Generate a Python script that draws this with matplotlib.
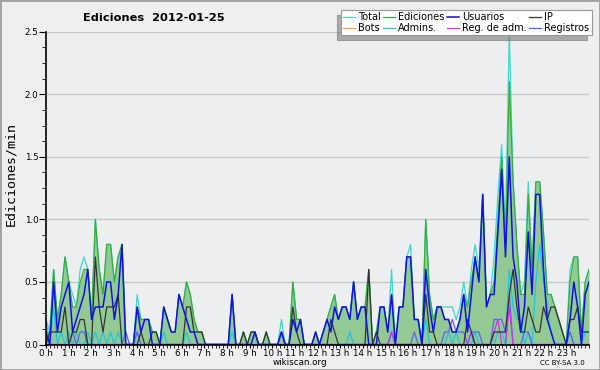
import numpy as np
import matplotlib
matplotlib.use('Agg')
import matplotlib.pyplot as plt
from matplotlib.patches import Rectangle
from matplotlib.ticker import MultipleLocator

# edits per minute, one value per 10 minutes (144 bins)
total = [0.2, 0.1, 0.6, 0.2, 0.4, 0.7,  0.5, 0.4, 0.3, 0.6, 0.7, 0.6,
         0.2, 1.0, 0.6, 0.4, 0.8, 0.8,  0.5, 0.7, 0.8, 0.1, 0.0, 0.0,
         0.4, 0.2, 0.2, 0.2, 0.1, 0.1,  0.0, 0.3, 0.2, 0.1, 0.1, 0.4,
         0.3, 0.5, 0.4, 0.2, 0.1, 0.1,  0.0, 0.0, 0.0, 0.0, 0.0, 0.0,
         0.0, 0.4, 0.0, 0.0, 0.1, 0.0,  0.1, 0.1, 0.0, 0.0, 0.1, 0.0,
         0.0, 0.0, 0.2, 0.0, 0.0, 0.5,  0.2, 0.2, 0.0, 0.0, 0.0, 0.1,
         0.0, 0.1, 0.2, 0.3, 0.4, 0.2,  0.3, 0.3, 0.2, 0.5, 0.2, 0.3,
         0.3, 0.6, 0.0, 0.1, 0.3, 0.3,  0.1, 0.6, 0.0, 0.3, 0.3, 0.7,
         0.8, 0.2, 0.2, 0.0, 1.0, 0.4,  0.2, 0.3, 0.3, 0.3, 0.3, 0.3,
         0.2, 0.3, 0.5, 0.3, 0.6, 0.8,  0.6, 1.2, 0.3, 0.4, 0.7, 1.2,
         1.6, 0.9, 2.5, 1.3, 0.8, 0.4,  0.5, 1.3, 0.6, 1.3, 1.3, 0.9,
         0.4, 0.4, 0.3, 0.2, 0.1, 0.0,  0.6, 0.7, 0.7, 0.1, 0.5, 0.6]

ediciones = [0.1, 0.1, 0.6, 0.2, 0.4, 0.7,  0.5, 0.3, 0.3, 0.5, 0.6, 0.6,
             0.2, 1.0, 0.6, 0.4, 0.8, 0.8,  0.5, 0.7, 0.8, 0.0, 0.0, 0.0,
             0.3, 0.2, 0.2, 0.2, 0.1, 0.1,  0.0, 0.3, 0.2, 0.1, 0.1, 0.4,
             0.3, 0.5, 0.4, 0.2, 0.1, 0.1,  0.0, 0.0, 0.0, 0.0, 0.0, 0.0,
             0.0, 0.4, 0.0, 0.0, 0.1, 0.0,  0.1, 0.1, 0.0, 0.0, 0.1, 0.0,
             0.0, 0.0, 0.1, 0.0, 0.0, 0.5,  0.2, 0.2, 0.0, 0.0, 0.0, 0.1,
             0.0, 0.1, 0.2, 0.3, 0.4, 0.2,  0.3, 0.3, 0.2, 0.5, 0.2, 0.3,
             0.3, 0.6, 0.0, 0.1, 0.3, 0.3,  0.1, 0.4, 0.0, 0.3, 0.3, 0.7,
             0.7, 0.2, 0.2, 0.0, 1.0, 0.4,  0.2, 0.3, 0.3, 0.2, 0.2, 0.1,
             0.1, 0.2, 0.4, 0.3, 0.5, 0.7,  0.5, 1.2, 0.3, 0.4, 0.5, 1.0,
             1.5, 0.8, 2.1, 1.3, 0.8, 0.4,  0.4, 1.2, 0.6, 1.3, 1.3, 0.9,
             0.4, 0.4, 0.3, 0.2, 0.1, 0.0,  0.5, 0.7, 0.7, 0.1, 0.5, 0.6]

usuarios = [0.1, 0.0, 0.5, 0.1, 0.3, 0.4,  0.5, 0.1, 0.2, 0.3, 0.4, 0.6,
            0.2, 0.3, 0.3, 0.3, 0.5, 0.5,  0.2, 0.4, 0.8, 0.0, 0.0, 0.0,
            0.3, 0.1, 0.2, 0.2, 0.0, 0.0,  0.0, 0.3, 0.2, 0.1, 0.1, 0.4,
            0.3, 0.2, 0.1, 0.1, 0.0, 0.0,  0.0, 0.0, 0.0, 0.0, 0.0, 0.0,
            0.0, 0.4, 0.0, 0.0, 0.0, 0.0,  0.0, 0.1, 0.0, 0.0, 0.0, 0.0,
            0.0, 0.0, 0.1, 0.0, 0.0, 0.2,  0.1, 0.2, 0.0, 0.0, 0.0, 0.1,
            0.0, 0.1, 0.2, 0.1, 0.3, 0.2,  0.3, 0.3, 0.2, 0.5, 0.2, 0.3,
            0.3, 0.0, 0.0, 0.0, 0.3, 0.3,  0.1, 0.4, 0.0, 0.3, 0.3, 0.7,
            0.7, 0.2, 0.2, 0.0, 0.6, 0.3,  0.1, 0.3, 0.3, 0.2, 0.2, 0.1,
            0.1, 0.2, 0.4, 0.1, 0.4, 0.7,  0.5, 1.2, 0.3, 0.4, 0.4, 0.9,
            1.4, 0.7, 1.5, 0.7, 0.5, 0.1,  0.3, 0.9, 0.4, 1.2, 1.2, 0.6,
            0.2, 0.1, 0.0, 0.0, 0.0, 0.0,  0.2, 0.5, 0.3, 0.0, 0.4, 0.5]

ip = [0.0, 0.1, 0.1, 0.1, 0.1, 0.3,  0.0, 0.1, 0.1, 0.2, 0.2, 0.0,
      0.0, 0.7, 0.3, 0.1, 0.3, 0.3,  0.3, 0.4, 0.0, 0.0, 0.0, 0.0,
      0.0, 0.1, 0.0, 0.0, 0.1, 0.1,  0.0, 0.0, 0.0, 0.0, 0.0, 0.0,
      0.0, 0.3, 0.3, 0.1, 0.1, 0.1,  0.0, 0.0, 0.0, 0.0, 0.0, 0.0,
      0.0, 0.0, 0.0, 0.0, 0.1, 0.0,  0.1, 0.1, 0.0, 0.0, 0.1, 0.0,
      0.0, 0.0, 0.0, 0.0, 0.0, 0.3,  0.1, 0.0, 0.0, 0.0, 0.0, 0.0,
      0.0, 0.0, 0.0, 0.2, 0.1, 0.0,  0.0, 0.0, 0.0, 0.0, 0.0, 0.0,
      0.0, 0.6, 0.0, 0.1, 0.0, 0.0,  0.0, 0.0, 0.0, 0.0, 0.0, 0.0,
      0.0, 0.0, 0.0, 0.0, 0.4, 0.1,  0.1, 0.0, 0.0, 0.0, 0.0, 0.0,
      0.0, 0.0, 0.0, 0.2, 0.1, 0.0,  0.0, 0.0, 0.0, 0.0, 0.1, 0.1,
      0.1, 0.1, 0.4, 0.6, 0.3, 0.1,  0.1, 0.3, 0.2, 0.1, 0.1, 0.3,
      0.2, 0.3, 0.3, 0.2, 0.1, 0.0,  0.2, 0.2, 0.3, 0.1, 0.1, 0.1]

admins = [0.2, 0.0, 0.3, 0.0, 0.1, 0.0,  0.1, 0.0, 0.1, 0.0, 0.0, 0.1,
          0.0, 0.1, 0.0, 0.1, 0.0, 0.1,  0.0, 0.1, 0.0, 0.0, 0.0, 0.0,
          0.1, 0.0, 0.0, 0.0, 0.0, 0.0,  0.0, 0.1, 0.0, 0.0, 0.0, 0.0,
          0.0, 0.1, 0.0, 0.0, 0.0, 0.0,  0.0, 0.0, 0.0, 0.0, 0.0, 0.0,
          0.0, 0.1, 0.0, 0.0, 0.0, 0.0,  0.0, 0.0, 0.0, 0.0, 0.0, 0.0,
          0.0, 0.0, 0.1, 0.0, 0.0, 0.0,  0.0, 0.0, 0.0, 0.0, 0.0, 0.0,
          0.0, 0.0, 0.0, 0.0, 0.0, 0.0,  0.0, 0.0, 0.1, 0.0, 0.0, 0.0,
          0.0, 0.0, 0.0, 0.0, 0.0, 0.0,  0.0, 0.1, 0.0, 0.0, 0.0, 0.0,
          0.0, 0.0, 0.0, 0.0, 0.2, 0.0,  0.0, 0.0, 0.0, 0.0, 0.1, 0.0,
          0.1, 0.0, 0.0, 0.0, 0.0, 0.1,  0.0, 0.0, 0.0, 0.0, 0.0, 0.1,
          0.1, 0.0, 0.6, 0.3, 0.2, 0.2,  0.0, 0.1, 0.0, 0.5, 0.8, 0.5,
          0.3, 0.1, 0.0, 0.0, 0.0, 0.0,  0.1, 0.0, 0.0, 0.0, 0.1, 0.1]

registros = [0.1, 0.0, 0.0, 0.0, 0.0, 0.0,  0.0, 0.1, 0.0, 0.1, 0.1, 0.0,
             0.0, 0.0, 0.0, 0.0, 0.0, 0.0,  0.0, 0.0, 0.0, 0.1, 0.0, 0.0,
             0.1, 0.0, 0.0, 0.0, 0.0, 0.0,  0.0, 0.0, 0.0, 0.0, 0.0, 0.0,
             0.0, 0.0, 0.0, 0.0, 0.0, 0.0,  0.0, 0.0, 0.0, 0.0, 0.0, 0.0,
             0.0, 0.0, 0.0, 0.0, 0.0, 0.0,  0.0, 0.0, 0.0, 0.0, 0.0, 0.0,
             0.0, 0.0, 0.1, 0.0, 0.0, 0.0,  0.0, 0.0, 0.0, 0.0, 0.0, 0.0,
             0.0, 0.0, 0.0, 0.0, 0.0, 0.0,  0.0, 0.0, 0.0, 0.0, 0.0, 0.0,
             0.0, 0.0, 0.0, 0.0, 0.0, 0.0,  0.0, 0.1, 0.0, 0.0, 0.0, 0.0,
             0.0, 0.1, 0.0, 0.0, 0.0, 0.0,  0.0, 0.0, 0.0, 0.1, 0.1, 0.2,
             0.1, 0.1, 0.1, 0.0, 0.1, 0.1,  0.1, 0.0, 0.0, 0.0, 0.2, 0.2,
             0.2, 0.1, 0.4, 0.0, 0.0, 0.0,  0.1, 0.1, 0.0, 0.0, 0.0, 0.0,
             0.0, 0.0, 0.0, 0.0, 0.0, 0.0,  0.1, 0.0, 0.0, 0.0, 0.0, 0.0]

reg_adm = [0.0] * 91 + [0.1] + [0.0] * 20 + [0.1] + [0.0] * 5 + [0.1, 0.2, 0.0, 0.0, 0.3] + [0.0] * 21
bots = [0.0] * 144

hours = [f'{h} h' for h in range(24)]
t = np.arange(144) * 24 / 143

plt.rcParams['font.family'] = 'DejaVu Sans'
fig = plt.figure(figsize=(6, 3.7), dpi=100, facecolor='#efefef')
ax = fig.add_axes([0.0767, 0.0689, 0.905, 0.8454], facecolor='#eceef0')

lw = 0.9
l_tot, = ax.plot(t, total, color='#3fd8cf', lw=lw, label='Total')
ax.fill_between(t, ediciones, color='#93c993', lw=0)
l_edi, = ax.plot(t, ediciones, color='#38ad38', lw=lw, label='Ediciones')
l_bot, = ax.plot(t, bots, color='#ffa030', lw=lw, label='Bots')
l_adm, = ax.plot(t, admins, color='#1cc6e2', lw=lw, label='Admins.')
l_reg, = ax.plot(t, registros, color='#6060ff', lw=lw, label='Registros')
l_rad, = ax.plot(t, reg_adm, color='#cc33ee', lw=lw, label='Reg. de adm.')
l_ip, = ax.plot(t, ip, color='#333333', lw=lw, label='IP')
l_usr, = ax.plot(t, usuarios, color='#1010e8', lw=1.1, label='Usuarios')

ax.set_xlim(0, 24)
ax.set_ylim(0, 2.5)
ax.set_xticks(range(24))
ax.set_xticklabels(hours)
ax.xaxis.set_minor_locator(MultipleLocator(1 / 6))
ax.yaxis.set_major_locator(MultipleLocator(0.5))
ax.yaxis.set_minor_locator(MultipleLocator(0.125))
ax.yaxis.set_major_formatter(lambda v, p: f'{v:.1f}')
ax.tick_params(axis='both', labelsize=6.3, width=0.8, colors='black', pad=0.5)
ax.tick_params(axis='x', which='both', length=2.5)
ax.tick_params(axis='y', which='major', length=5)
ax.tick_params(axis='y', which='minor', length=3)
ax.yaxis.grid(True, color='#c8c8c8', lw=1)
ax.set_axisbelow(True)
for s in ['top', 'right']:
    ax.spines[s].set_visible(False)
for s in ['left', 'bottom']:
    ax.spines[s].set_linewidth(1.2)
    ax.spines[s].set_zorder(5)

fig.text(0.257, 0.952, 'Ediciones  2012-01-25', fontsize=8.2, fontweight='bold',
         ha='center', va='center')
fig.text(0.018, 0.53, 'Ediciones/min', family='DejaVu Sans Mono', fontsize=9.5,
         rotation=90, ha='center', va='center')
fig.text(0.5, 0.02, 'wikiscan.org', fontsize=6.3, ha='center', va='center')
fig.text(0.937, 0.019, 'CC BY-SA 3.0', fontsize=5, ha='center', va='center')

handles = [l_tot, l_bot, l_edi, l_adm, l_usr, l_rad, l_ip, l_reg]
leg = ax.legend(handles=handles, ncol=4, loc='upper right',
                bbox_to_anchor=(0.986, 0.973), bbox_transform=fig.transFigure,
                fontsize=7, frameon=True, fancybox=False, borderpad=0.25,
                labelspacing=0.05, handlelength=1.2, handletextpad=0.3,
                columnspacing=0.3, borderaxespad=0,
                shadow={'ox': -3, 'oy': -3.5, 'color': '#666666'})
leg.get_frame().set_edgecolor('#999999')
leg.get_frame().set_linewidth(0.8)
leg.set_zorder(10)

fig.patches.append(Rectangle((0, 0), 1, 1, transform=fig.transFigure, fill=False,
                             edgecolor='#a0a0a0', lw=2))

fig.savefig('out.png', dpi=100, facecolor=fig.get_facecolor())
